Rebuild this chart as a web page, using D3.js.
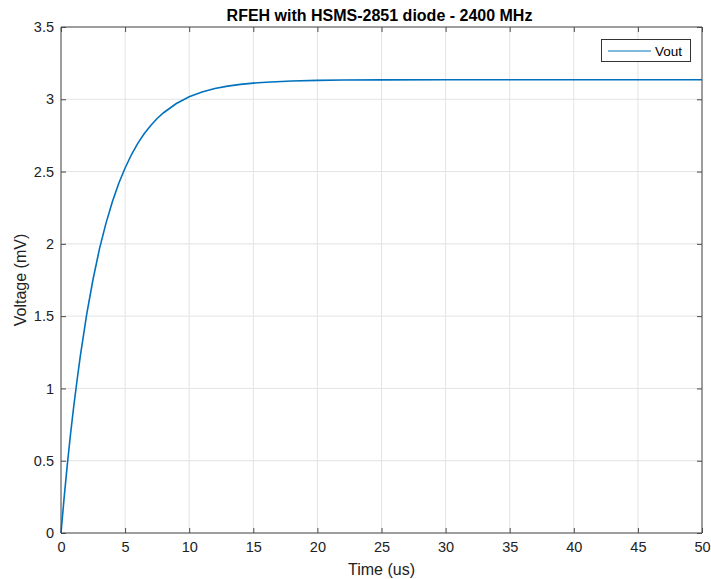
<!DOCTYPE html>
<html>
<head>
<meta charset="utf-8">
<script src="https://cdn.jsdelivr.net/npm/d3@7"></script>
<style>
  html, body { margin: 0; padding: 0; background: #fff; }
  svg { display: block; font-family: "Liberation Sans", Arial, Helvetica, sans-serif; }
</style>
</head>
<body>
<svg id="chart" width="711" height="579"></svg>
<script>
// Data
const timeUs = [0, 0.25, 0.5, 0.75, 1, 1.25, 1.5, 2, 2.5, 3, 3.5, 4, 4.5, 5, 5.5, 6, 6.5, 7, 7.5, 8, 9, 10, 11, 12, 13, 14, 15, 16, 18, 20, 22, 25, 30, 35, 40, 45, 50];
const vout   = [0, 0.25, 0.48, 0.69, 0.88, 1.055, 1.22, 1.51, 1.755, 1.965, 2.14, 2.29, 2.418, 2.525, 2.618, 2.697, 2.763, 2.819, 2.867, 2.907, 2.971, 3.017, 3.05, 3.074, 3.091, 3.103, 3.112, 3.118, 3.127, 3.131, 3.133, 3.134, 3.135, 3.135, 3.135, 3.135, 3.135];
const xTicks = [0, 5, 10, 15, 20, 25, 30, 35, 40, 45, 50];
const yTicks = [0, 0.5, 1, 1.5, 2, 2.5, 3, 3.5];
const titleText = "RFEH with HSMS-2851 diode - 2400 MHz";
const xLabel = "Time (us)";
const yLabel = "Voltage (mV)";
const seriesName = "Vout";

const svg = d3.select("#chart");
const L = 61, R = 702, T = 27, B = 533;
const x = d3.scaleLinear().domain([0, 50]).range([L, R]);
const y = d3.scaleLinear().domain([0, 3.5]).range([B, T]);
const axisColor = "#4a4a4a";

// grid
const g = svg.append("g");
g.selectAll(".gx").data(xTicks).enter().append("line")
  .attr("x1", d => x(d)).attr("x2", d => x(d)).attr("y1", T).attr("y2", B)
  .attr("stroke", "#e3e3e3").attr("stroke-width", 1);
g.selectAll(".gy").data(yTicks).enter().append("line")
  .attr("y1", d => y(d)).attr("y2", d => y(d)).attr("x1", L).attr("x2", R)
  .attr("stroke", "#e3e3e3").attr("stroke-width", 1);

// line
const line = d3.line().x((d, i) => x(timeUs[i])).y(d => y(d));
svg.append("path").datum(vout)
  .attr("d", line)
  .attr("fill", "none")
  .attr("stroke", "#0072BD")
  .attr("stroke-width", 1.6);

// axes
const fs = "14.5px";
const xAxis = d3.axisBottom(x).tickValues(xTicks).tickSize(-5).tickPadding(9).tickFormat(d3.format("d"));
const xAxisTop = d3.axisTop(x).tickValues(xTicks).tickSize(-5).tickFormat("");
const yAxis = d3.axisLeft(y).tickValues(yTicks).tickSize(-5).tickPadding(7).tickFormat(d => d);
const yAxisRight = d3.axisRight(y).tickValues(yTicks).tickSize(-5).tickFormat("");

function style(sel) {
  sel.selectAll("path").attr("stroke", axisColor);
  sel.selectAll("line").attr("stroke", axisColor);
  sel.selectAll("text").attr("fill", "#222").style("font-size", fs).style("font-family", "Liberation Sans, Arial, sans-serif");
}
svg.append("g").attr("transform", `translate(0,${B})`).call(xAxis).call(style).call(s => s.select(".domain").attr("d", `M${L},0H${R}`));
svg.append("g").attr("transform", `translate(0,${T})`).call(xAxisTop).call(style).call(s => s.select(".domain").attr("d", `M${L},0H${R}`));
svg.append("g").attr("transform", `translate(${L},0)`).call(yAxis).call(style).call(s => s.select(".domain").attr("d", `M0,${T}V${B}`));
svg.append("g").attr("transform", `translate(${R},0)`).call(yAxisRight).call(style).call(s => s.select(".domain").attr("d", `M0,${T}V${B}`));

// title & labels
svg.append("text").attr("x", (L + R) / 2 - 2).attr("y", 21).attr("text-anchor", "middle")
  .style("font-size", "16px").style("font-weight", "bold").attr("fill", "#000").text(titleText);
svg.append("text").attr("x", (L + R) / 2).attr("y", 575).attr("text-anchor", "middle")
  .style("font-size", "16px").attr("fill", "#222").text(xLabel);
svg.append("text").attr("transform", `translate(26,${(T + B) / 2}) rotate(-90)`).attr("text-anchor", "middle")
  .style("font-size", "16px").attr("fill", "#222").text(yLabel);

// legend
const lg = svg.append("g");
lg.append("rect").attr("x", 601.5).attr("y", 39.5).attr("width", 89).attr("height", 22)
  .attr("fill", "#fff").attr("stroke", "#333").attr("stroke-width", 1);
lg.append("line").attr("x1", 608).attr("x2", 651).attr("y1", 51).attr("y2", 51)
  .attr("stroke", "#0072BD").attr("stroke-width", 1);
lg.append("text").attr("x", 655).attr("y", 55.5).style("font-size", "13.5px").attr("fill", "#000").text(seriesName);
</script>
</body>
</html>
